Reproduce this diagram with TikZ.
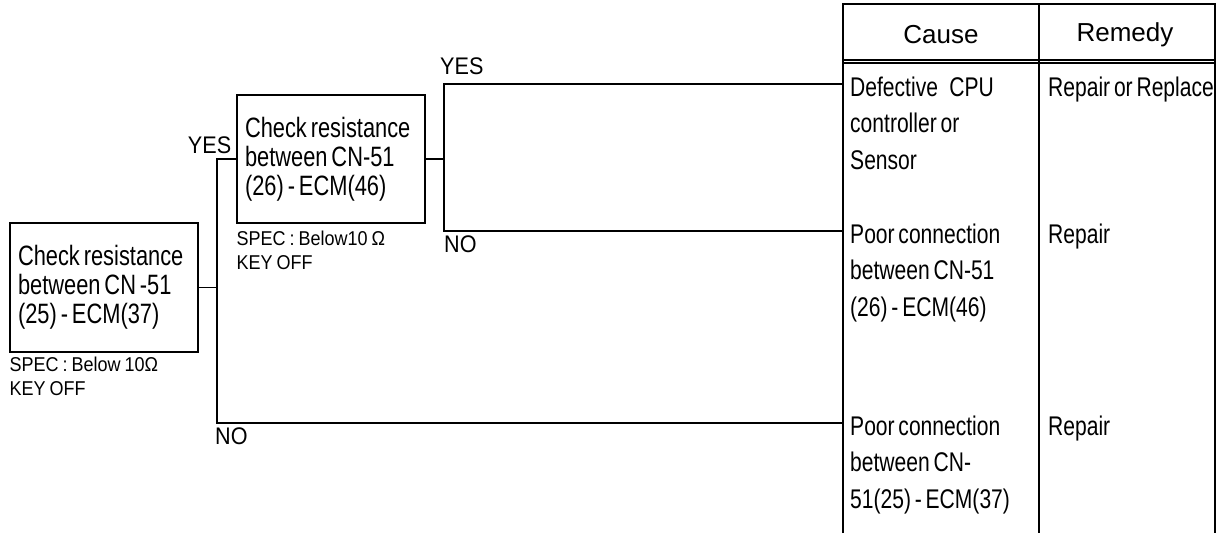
\documentclass[tikz,border=0pt]{standalone}
\usepackage{fontspec}
\setmainfont{Liberation Sans}
\newfontfamily\narrowfont[FakeStretch=0.78, WordSpace=0.65]{Liberation Sans}
\newfontfamily\specfont[FakeStretch=0.9, WordSpace=0.8]{Liberation Sans}
\usetikzlibrary{positioning}

\tikzset{
  chkbox/.style={draw, rectangle, line width=1.2pt, minimum width=188pt, minimum height=128pt,
    text width=172pt, inner xsep=8pt, align=flush left, font=\narrowfont\fontsize{28}{29}\selectfont},
  spec/.style={inner sep=0pt, align=left, font=\specfont\fontsize{20}{24}\selectfont},
  ans/.style={inner sep=0pt, font=\specfont\fontsize{24}{24}\selectfont},
  head/.style={inner sep=0pt, font=\fontsize{26}{26}\selectfont},
  cell/.style={inner sep=0pt, anchor=base west, align=left, font=\narrowfont\fontsize{27}{36.5}\selectfont},
  wire/.style={line width=1.1pt},
}

\begin{document}
\begin{tikzpicture}[x=1pt, y=-1pt]
  \useasboundingbox (0,0) rectangle (1220,533);

  % check boxes
  \node[chkbox, minimum height=129pt] (chk1) at (104,287.5) {Check resistance\\between CN -51\\(25) - ECM(37)};
  \node[chkbox] (chk2) at (331,159) {Check resistance\\between CN-51\\(26) - ECM(46)};
  \node[spec, below right=4pt and 0pt of chk1.south west] (spec1) {SPEC : Below 10Ω\\KEY OFF};
  \node[spec, below right=7pt and 0pt of chk2.south west] (spec2) {SPEC : Below10 Ω\\KEY OFF};

  % table
  \draw[wire] (843,533) -- (843,4) -- (1215,4) -- (1215,533);
  \draw[wire] (1039,4) -- (1039,533);
  \draw[wire] (843,60) -- (1215,60);
  \draw[wire] (843,63) -- (1215,63);
  \node[head] (cause) at (941,35) {Cause};
  \node[head] (remedy) at (1125,35) {Remedy};

  % base anchor sits on the last line
  \node[cell] (cause1) at (850,169) {Defective\ \ \ CPU\\controller or\\Sensor};
  \node[cell] (cause2) at (850,316) {Poor connection\\between CN-51\\(26) - ECM(46)};
  \node[cell] (cause3) at (850,508) {Poor connection\\between CN-\\51(25) - ECM(37)};
  \node[cell] (rem1) at (1048,96) {Repair or Replace};
  \node[cell] (rem2) at (1048,243) {Repair};
  \node[cell] (rem3) at (1048,435) {Repair};

  % connectors
  \coordinate (fork1a) at (217,159);
  \coordinate (fork1b) at (217,423);
  \coordinate (fork2a) at (444,84);
  \coordinate (fork2b) at (444,231);
  \coordinate (in1) at (843,84);
  \coordinate (in2) at (843,231);
  \coordinate (in3) at (843,423);

  \draw[wire] (chk1.east) -- (chk1.east -| fork1a);
  \draw[wire] (chk2.west) -- (fork1a) -- (fork1b) -- (in3);
  \draw[wire] (chk2.east) -- (chk2.east -| fork2a);
  \draw[wire] (in1) -- (fork2a) -- (fork2b) -- (in2);

  \node[ans, anchor=south east] (yes1) at ([xshift=-5pt, yshift=5.5pt]chk2.west) {YES};
  \node[ans, anchor=south west] (yes2) at ([xshift=-4pt, yshift=9.5pt]fork2a) {YES};
  \node[ans, anchor=north west] (no2) at ([yshift=-4.5pt]fork2b) {NO};
  \node[ans, anchor=north west] (no1) at ([xshift=-2pt, yshift=-5pt]fork1b) {NO};
\end{tikzpicture}
\end{document}
